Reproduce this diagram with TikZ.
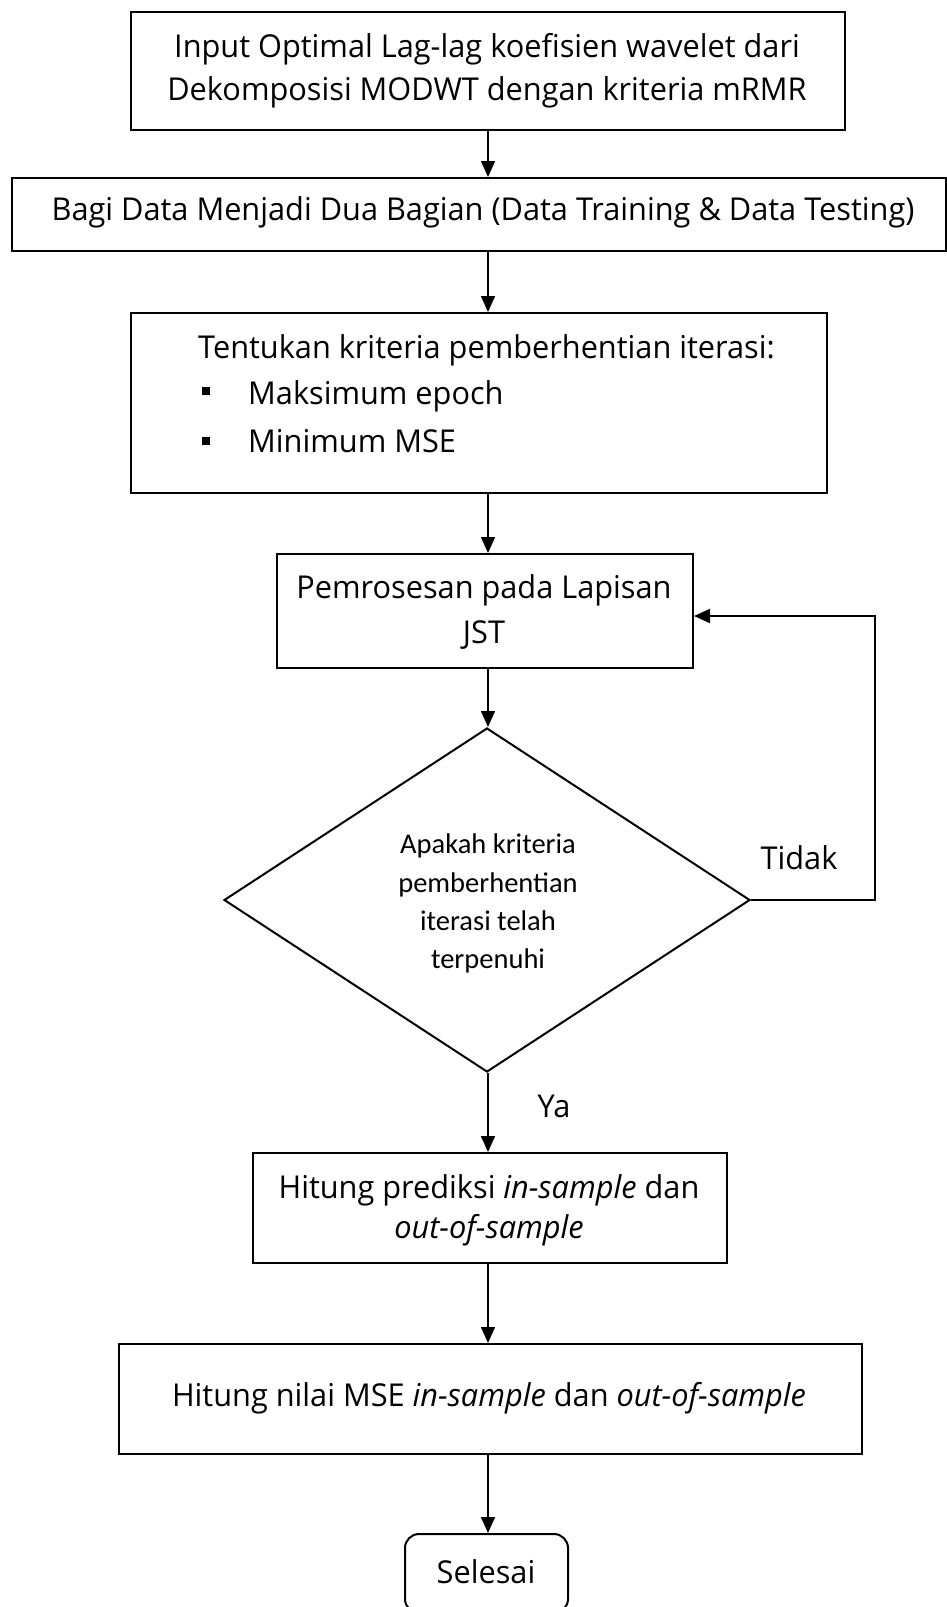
\documentclass[tikz,border=0pt]{standalone}
\usepackage{fontspec}
\setmainfont{Open Sans}[FakeStretch=0.975]
\newfontfamily\dfont{Carlito}
\usetikzlibrary{arrows.meta,shapes.geometric,calc}
\begin{document}
\begin{tikzpicture}[x=1pt,y=-1pt,
  box/.style={draw, line width=2pt, inner sep=0pt, anchor=north west},
  txt/.style={anchor=base, inner sep=0pt, font=\fontsize{31.5}{43}\selectfont},
  ltxt/.style={anchor=base west, inner sep=0pt, font=\fontsize{31.5}{43}\selectfont},
  dtxt/.style={anchor=base, inner sep=0pt, font=\dfont\fontsize{28.5}{38.5}\selectfont},
  arr/.style={line width=1.5pt, -{Triangle[length=16pt,width=14pt]}},
  bul/.style={fill=black, inner sep=0pt, minimum size=8pt}]
\clip (0,0) rectangle (947,1607);
\fill[white] (0,0) rectangle (947,1607);
% boxes
\node[box, minimum width=714pt, minimum height=118pt] (b1) at (130,11) {};
\node[box, minimum width=934pt, minimum height=73pt] (b2) at (11,177) {};
\node[box, minimum width=696pt, minimum height=180pt] (b3) at (130,312) {};
\node[box, minimum width=416pt, minimum height=114pt] (b4) at (276,553) {};
\node[draw, diamond, line width=2pt, inner sep=0pt, minimum width=526pt, minimum height=344pt] (dec) at (487,900) {};
\node[box, minimum width=474pt, minimum height=110pt] (b5) at (252,1152) {};
\node[box, minimum width=743pt, minimum height=110pt] (b6) at (118,1343) {};
\node[box, rounded corners=14pt, minimum width=163pt, minimum height=79pt] (end) at (404,1533) {};
% texts
\node[txt] (t1a) at (487,57) {Input Optimal Lag-lag koefisien wavelet dari};
\node[txt] (t1b) at (487,100) {Dekomposisi MODWT dengan kriteria mRMR};
\node[txt] (t2) at (483,220) {Bagi Data Menjadi Dua Bagian (Data Training \& Data Testing)};
\node[ltxt] (t3a) at (198,358) {Tentukan kriteria pemberhentian iterasi:};
\node[bul] (p1) at (206,391) {};
\node[ltxt] (t3b) at (248,404) {Maksimum epoch};
\node[bul] (p2) at (206,441) {};
\node[ltxt] (t3c) at (248,452) {Minimum MSE};
\node[txt] (t4a) at (484,598) {Pemrosesan pada Lapisan};
\node[txt] (t4b) at (484,643) {JST};
\node[dtxt] (d1) at (488,853) {Apakah kriteria};
\node[dtxt] (d2) at (488,892) {pemberhentian};
\node[dtxt] (d3) at (488,930) {iterasi telah};
\node[dtxt] (d4) at (488,968) {terpenuhi};
\node[txt] (tidak) at (799,869) {Tidak};
\node[txt] (ya) at (554,1117) {Ya};
\node[txt] (t5a) at (489,1198) {Hitung prediksi \textit{in-sample} dan};
\node[txt] (t5b) at (489,1238) {\textit{out-of-sample}};
\node[txt] (t6) at (489,1406) {Hitung nilai MSE \textit{in-sample} dan \textit{out-of-sample}};
\node[txt] (t7) at (486,1583) {Selesai};
% connectors
\coordinate (sp) at (488,0);
\coordinate (lp) at (875,616);
\draw[arr] (b1.south -| sp) -- (b2.north -| sp);
\draw[arr] (b2.south -| sp) -- (b3.north -| sp);
\draw[arr] (b3.south -| sp) -- (b4.north -| sp);
\draw[arr] (b4.south -| sp) -- (dec.north -| sp);
\draw[arr] (dec.south -| sp) -- (b5.north -| sp);
\draw[arr] (b5.south -| sp) -- (b6.north -| sp);
\draw[arr] (b6.south -| sp) -- (end.north -| sp);
\draw[arr, line width=2pt] (dec.east) -| (lp) -- (lp -| b4.east);
\end{tikzpicture}
\end{document}
